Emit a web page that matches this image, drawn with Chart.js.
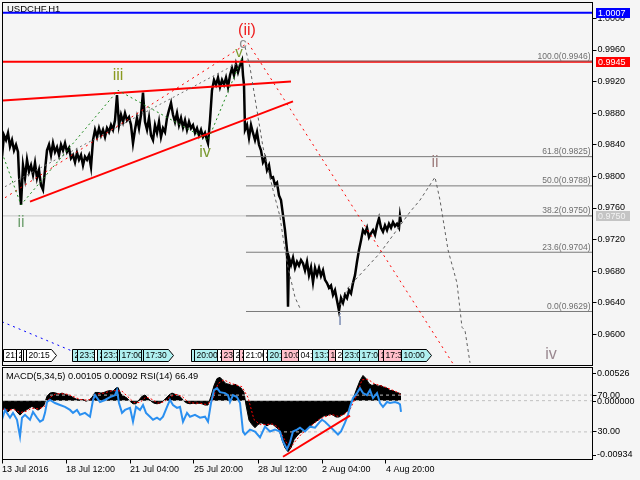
<!DOCTYPE html>
<html><head><meta charset="utf-8">
<script src="https://cdn.jsdelivr.net/npm/chart.js@4.4.0/dist/chart.umd.min.js"></script>
<style>
html,body{margin:0;padding:0;background:#f5f5f5;width:640px;height:480px;overflow:hidden}
#main{position:absolute;left:0;top:0}
#sub{position:absolute;left:0;top:366px}
</style></head><body>
<canvas id="main" width="640" height="367"></canvas>
<canvas id="sub" width="640" height="114"></canvas>
<script>
// ---------------- DATA ----------------
const chartTitle = 'USDCHF,H1';
const priceTicks = [0.9600,0.9640,0.9680,0.9720,0.9760,0.9800,0.9840,0.9880,0.9920,0.9960,1.0000];
const xTickHours = [0,64,128,192,256,320,384];
const xTickLabels = ['13 Jul 2016','18 Jul 12:00','21 Jul 04:00','25 Jul 20:00','28 Jul 12:00','2 Aug 04:00','4 Aug 20:00'];

const priceHours = [0,2,4,6,8,10,12,14,16,17,18,19,20,21,
23,25,27,29,31,33,35,37,39,41,43,45,47,49,51,53,55,57,59,61,63,65,67,69,71,73,75,77,79,81,83,85,87,89,91,93,
95,97,99,101,103,105,107,109,111,113,115,117,119,121,123,125,127,129,131,133,135,137,139,141,143,145,147,149,151,153,155,157,159,161,163,165,167,169,171,173,175,177,179,181,183,185,187,189,191,193,195,197,199,201,203,205,
206,208,210,212,214,216,218,220,222,224,226,228,230,232,234,236,238,240,241,242,243,
245,247,249,251,253,255,257,259,261,263,265,267,269,271,273,275,277,279,281,283,285,286,287,
289,291,293,295,297,299,301,303,305,307,309,311,313,315,317,319,321,323,325,327,329,331,333,335,337,339,341,343,345,347,349,351,353,355,357,359,361,363,365,367,369,371,373,375,377,379,381,383,385,387,389,391,393,395,397,398,399];
const priceValues = [0.9825,0.9852,0.9846,0.9855,0.9838,0.9846,0.9833,0.9840,0.9831,0.9802,0.9783,0.9764,0.9789,0.9814,
0.9798,0.9821,0.9806,0.9814,0.9802,0.9817,0.9798,0.9808,0.9789,0.9783,0.9808,0.9833,0.9840,0.9827,0.9842,0.9831,0.9837,0.9827,0.9840,0.9833,0.9842,0.9831,0.9836,0.9823,0.9827,0.9818,0.9830,0.9821,0.9827,0.9814,0.9825,0.9821,0.9827,0.9812,0.9846,0.9859,
0.9850,0.9861,0.9852,0.9859,0.9850,0.9861,0.9856,0.9865,0.9859,0.9871,0.9903,0.9865,0.9878,0.9869,0.9880,0.9871,0.9875,0.9865,0.9842,0.9859,0.9874,0.9861,0.9878,0.9906,0.9869,0.9859,0.9874,0.9852,0.9846,0.9865,0.9855,0.9869,0.9850,0.9861,0.9856,0.9874,0.9884,0.9893,0.9878,0.9869,0.9880,0.9865,0.9874,0.9862,0.9871,0.9859,0.9869,0.9861,0.9865,0.9855,0.9861,0.9852,0.9859,0.9850,0.9855,0.9846,
0.9842,0.9871,0.9909,0.9922,0.9916,0.9925,0.9913,0.9922,0.9916,0.9925,0.9913,0.9928,0.9937,0.9928,0.9942,0.9932,0.9941,0.9947,0.9928,0.9916,0.9859,
0.9865,0.9849,0.9865,0.9855,0.9846,0.9856,0.9840,0.9833,0.9818,0.9823,0.9808,0.9814,0.9798,0.9799,0.9789,0.9792,0.9776,0.9770,0.9751,0.9732,0.9707,0.9635,0.9697,
0.9688,0.9697,0.9684,0.9692,0.9687,0.9694,0.9690,0.9681,0.9692,0.9675,0.9685,0.9666,0.9684,0.9675,0.9684,0.9674,0.9681,0.9669,0.9665,0.9659,0.9662,0.9650,0.9656,0.9643,0.9630,0.9646,0.9640,0.9650,0.9646,0.9656,0.9652,0.9665,0.9675,0.9692,0.9707,0.9719,0.9732,0.9728,0.9735,0.9723,0.9728,0.9732,0.9726,0.9738,0.9747,0.9735,0.9730,0.9738,0.9732,0.9740,0.9735,0.9742,0.9737,0.9740,0.9735,0.9750,0.9742];

const rsiHours = [0,3,8,11,15,18,20,23,28,31,35,38,41,43,45,48,53,58,63,68,71,75,78,83,88,91,93,98,103,108,113,115,117,120,123,128,131,134,138,141,144,148,151,155,158,161,165,168,171,175,178,181,185,188,193,198,203,206,209,212,215,218,223,226,228,231,235,238,241,243,248,253,258,263,268,273,278,281,285,288,291,295,298,303,308,313,318,320,323,328,333,336,339,343,346,348,351,355,358,361,365,368,371,375,378,381,385,388,393,396,398,399];
const rsiValues = [43.2,53.9,45.4,50.7,43.2,25.0,45.4,48.6,43.2,51.8,45.4,41.1,43.2,50.7,62.5,64.7,61.4,59.3,57.2,53.9,50.7,53.9,48.6,50.7,46.5,64.7,70.0,62.5,64.7,67.9,70.0,75.4,61.4,50.7,53.9,56.1,41.1,57.2,53.9,59.3,50.7,46.5,43.2,45.4,43.2,46.5,57.2,64.7,59.3,56.1,57.2,41.1,50.7,46.5,48.6,45.4,46.5,41.1,61.4,75.4,77.5,73.2,72.2,70.0,62.5,70.0,67.9,61.4,30.4,27.2,32.5,30.4,24.0,35.7,30.4,32.5,30.4,19.6,11.1,18.5,30.4,32.5,34.6,30.4,35.7,34.6,41.1,43.2,41.1,35.7,30.4,27.2,30.4,40.0,48.6,57.2,66.8,72.2,77.5,72.2,70.0,75.4,66.8,72.2,61.4,57.2,62.5,61.4,62.5,61.4,60.0,51.8];

const macdHours = [0,3,6,9,12,15,18,21,24,27,30,33,36,39,42,45,48,51,54,57,60,63,66,69,72,75,78,81,84,87,90,93,96,99,102,105,108,111,114,116,
119,122,125,128,131,134,137,140,143,146,149,152,155,158,161,164,167,170,173,176,179,182,185,188,191,194,197,200,203,206,209,212,215,218,221,224,227,230,233,236,239,242,244,
247,250,253,256,259,262,265,268,271,274,277,280,283,286,289,292,295,298,301,304,307,310,313,316,319,322,325,328,331,334,337,340,343,346,349,352,355,358,361,364,367,370,373,376,379,382,385,388,391,394,397,399];
const macdValues = [-0.0012,-0.0015,-0.0018,-0.0013,-0.0012,-0.0018,-0.0023,-0.0018,-0.0015,-0.0012,-0.0009,-0.0012,-0.0015,-0.0012,-0.0007,
0.0007,0.0012,0.0013,0.0012,0.0010,0.0012,0.0010,0.0009,0.0007,0.0004,0.0002,0.0001,0.0002,-0.0001,0.0001,0.0005,
0.0013,0.0013,0.0012,0.0013,0.0015,0.0016,0.0015,0.0020,0.0021,
0.0010,0.0007,0.0004,-0.0001,-0.0005,-0.0005,0.0001,0.0007,0.0009,0.0004,
-0.0001,-0.0004,-0.0005,-0.0004,-0.0001,0.0004,0.0009,0.0012,0.0010,0.0009,
0.0005,-0.0001,-0.0004,-0.0005,-0.0004,-0.0005,-0.0004,-0.0005,-0.0007,-0.0007,
0.0007,0.0024,0.0035,0.0037,0.0032,0.0027,0.0026,0.0024,0.0026,0.0023,0.0020,0.0013,-0.0007,
-0.0031,-0.0038,-0.0043,-0.0038,-0.0035,-0.0037,-0.0040,-0.0037,-0.0038,-0.0042,
-0.0046,-0.0062,-0.0075,-0.0081,-0.0075,-0.0062,-0.0056,-0.0051,-0.0049,-0.0046,
-0.0043,-0.0038,-0.0034,-0.0031,-0.0027,-0.0024,-0.0024,-0.0021,-0.0023,-0.0026,
-0.0026,-0.0023,-0.0020,-0.0015,-0.0005,0.0007,0.0020,0.0032,0.0040,0.0035,
0.0027,0.0024,0.0026,0.0023,0.0024,0.0021,0.0020,0.0016,0.0016,0.0013,0.0012,0.00105];

const signalHours = [0,6,12,18,24,30,36,42,48,54,60,66,72,78,84,90,96,102,108,114,120,126,132,138,144,150,156,162,168,174,180,186,192,198,204,210,216,222,228,234,240,246,252,258,264,270,276,282,288,294,300,306,312,318,324,330,336,342,348,354,360,366,372,378,384,390,396,399];
const signalValues = [-0.0013,-0.0015,-0.0014,-0.0019,-0.0017,-0.0012,-0.0013,-0.0010,0.0005,0.0011,0.0011,0.0010,0.0006,0.0002,0.0001,0.0002,0.0011,0.0012,0.0015,0.0016,0.0015,0.0006,-0.0003,-0.0003,0.0006,0.0002,-0.0004,-0.0002,0.0006,0.0010,0.0007,-0.0002,-0.0004,-0.0004,-0.0006,-0.0001,0.0027,0.0033,0.0028,0.0025,0.0022,0.0005,-0.0030,-0.0038,-0.0038,-0.0037,-0.0042,-0.0060,-0.0076,-0.0063,-0.0052,-0.0045,-0.0036,-0.0029,-0.0025,-0.0022,-0.0025,-0.0022,-0.0014,0.0006,0.0033,0.0034,0.0027,0.0024,0.0021,0.0017,0.0013,0.00092];

const macdMax = 0.00526;
const macdMin = -0.00934;
const rsiLevels = [70, 30];
const indicatorHeader = 'MACD(5,34,5) 0.00105 0.00092 RSI(14) 66.49';

// horizontal price levels
const blueLevel = 1.0007;
const redLevel = 0.9945;
const bidLevel = 0.9750;
const fibStartHour = 244;
const fibLevels = [100.0, 61.8, 50.0, 38.2, 23.6, 0.0];
const fibPrices = [0.9946, 0.9825, 0.9788, 0.9750, 0.9704, 0.9629];

// drawn objects: [hour, price]
const upperTrendLine = [[1,0.9896],[289,0.9920]];
const lowerTrendLine = [[28,0.9768],[291,0.9895]];
const waveZigzag = [[0,0.9830],[19,0.9764],[116,0.9909],[206,0.9846],[240,0.9950]];
const redDottedUp = [[3,0.9773],[246,0.9969]];
const greyDottedUp = [[3,0.9787],[238,0.9945]];
const redDottedDown = [[246,0.9969],[456,0.9553]];
const blueDotted = [[0,0.9616],[70,0.9579]];
const greyDashedA = [[243,0.9964],[248,0.9938],[253,0.9899],[261,0.9837],[271,0.9783],[278,0.9749],[281,0.9723],[286,0.9685],[293,0.9647],[298,0.9633]];
const greyDashedB = [[338,0.9637],[346,0.9659],[378,0.9703],[408,0.9755],[418,0.9770],[433,0.9799],[438,0.9770],[446,0.9707],[455,0.9665],[460,0.9609],[463,0.9605],[468,0.9564]];
const rsiTrendLine = [[281,3.0],[348,47.6]];

// wave labels
const waveTexts = ['(ii)','c','v','iii','iv','ii','i','ii','iv'];
const waveHours = [245,241,237,116,203,19,338,433,549];
const wavePrices = [0.9985,0.9968,0.9956,0.9928,0.9830,0.9742,0.9617,0.9817,0.9574];

// news events
const eventHours = [1,14,19,21,24,70,75,92,95,99,115,117,139,141,189,192,215,219,231,237,241,261,265,279,296,310,326,333,340,357,376,381,399];
const eventTexts = ['21:00','21:30','20:00','20:10','20:15','23:00','23:30','23:00','23:10','23:30','17:00','17:00','17:30','17:30','20:00','20:00','23:30','23:00','20:00','23:00','21:00','20:00','20:00','10:00','04:00','13:30','14:00','20:00','23:00','17:00','17:00','17:30','10:00'];
const eventImportance = ['low','low','low','low','low','med','med','low','med','med','med','med','med','med','med','med','low','high','low','high','low','low','med','high','low','med','high','low','med','med','high','high','med'];

// ---------------- STYLE ----------------
const NUM_FONT = '"Liberation Sans", Arial, sans-serif';
const TXT_FONT = '"Liberation Sans", Arial, sans-serif';
const waveColors = ['#ee2020','#8c8c8c','#7a9a30','#8a9a20','#7a9a30','#70a070','#7888b0','#a08080','#9a8890'];
const waveSizes = [16,15,15,16,16,16,16,16,16];
const importanceColors = {low:'#ffffff', med:'#b0f0f0', high:'#ffc0cb'};
const X_MAX = 590.5;
const Y_MAX = 1.002076, Y_MIN = 0.956127;

function pts(arr){ return arr.map(p => ({x:p[0], y:p[1]})); }
function zipPts(hs, vs){ return hs.map((h,i) => ({x:h, y:vs[i]})); }
function ln(data, color, width, dash, order, axis){
  const d = {type:'line', data, borderColor:color, borderWidth:width, pointRadius:0, tension:0, fill:false, order:order||0};
  if (dash) d.borderDash = dash;
  if (axis) d.yAxisID = axis;
  return d;
}
function hLine(p, h0){ return [[h0===undefined?0:h0, p],[X_MAX, p]]; }

// ---------------- MAIN CHART ----------------
const mainDatasets = [
  ln(zipPts(priceHours, priceValues), '#000000', 2.5, null, 100),
  ln(pts(hLine(bidLevel)), '#c4c4c4', 1, null, 50),
  ln(pts(hLine(blueLevel)), '#0000ff', 2, null, 40),
  ln(pts(hLine(redLevel)), '#ff0000', 2, null, 40),
];
fibPrices.forEach(p => mainDatasets.push(ln(pts(hLine(p, fibStartHour)), '#7a7a7a', 1, null, 30)));
mainDatasets.push(
  ln(pts(upperTrendLine), '#ff0000', 2, null, 20),
  ln(pts(lowerTrendLine), '#ff0000', 2, null, 20),
  ln(pts(waveZigzag), '#1e8a1e', 1, [2,3], 10),
  ln(pts(redDottedUp), '#ff0000', 1, [2,4], 10),
  ln(pts(greyDottedUp), '#707070', 1, [2,3], 10),
  ln(pts(redDottedDown), '#ff0000', 1, [2,4], 10),
  ln(pts(blueDotted), '#0000ff', 1, [2,4], 10),
  ln(pts(greyDashedA), '#606060', 1, [3,3], 10),
  ln(pts(greyDashedB), '#606060', 1, [3,3], 10)
);

function frame(ctx, a){
  ctx.save();
  ctx.strokeStyle = '#000'; ctx.lineWidth = 1;
  const l = Math.floor(a.left)+0.5, t = Math.floor(a.top)+0.5;
  ctx.strokeRect(l, t, Math.floor(a.right)+0.5-l, Math.floor(a.bottom)+0.5-t);
  ctx.restore();
}
function tag(ctx, yPix, text, bg, fg, left){
  ctx.fillStyle = bg;
  ctx.fillRect(left, Math.round(yPix)-5, 34, 10);
  ctx.fillStyle = fg;
  ctx.font = '9px ' + NUM_FONT;
  ctx.textAlign = 'left'; ctx.textBaseline = 'middle';
  ctx.fillText(text, left + 2, Math.round(yPix) + 0.5);
}

const mainPlugin = {
  id: 'mainDecor',
  beforeDatasetsDraw(chart){
    const {ctx, chartArea:a} = chart;
    ctx.save();
    ctx.font = '9.5px ' + TXT_FONT; ctx.fillStyle = '#000';
    ctx.textAlign = 'left'; ctx.textBaseline = 'middle';
    ctx.fillText(chartTitle, a.left + 5, a.top + 7);
    ctx.restore();
  },
  afterDatasetsDraw(chart){
    const {ctx, chartArea:a, scales:{x, y}} = chart;
    ctx.save();
    // fib labels
    ctx.font = '8.5px ' + NUM_FONT; ctx.fillStyle = '#6e6e6e';
    ctx.textAlign = 'right'; ctx.textBaseline = 'alphabetic';
    fibLevels.forEach((lv, i) => {
      const py = y.getPixelForValue(fibPrices[i]);
      ctx.fillText(lv.toFixed(1) + '(' + fibPrices[i].toFixed(4) + ')', a.right - 2, py - 2.5);
    });
    // wave labels
    ctx.textAlign = 'center'; ctx.textBaseline = 'middle';
    waveTexts.forEach((t, i) => {
      ctx.font = waveSizes[i] + 'px ' + TXT_FONT;
      ctx.fillStyle = waveColors[i];
      ctx.fillText(t, x.getPixelForValue(waveHours[i]), y.getPixelForValue(wavePrices[i]));
    });
    // news event markers
    ctx.font = '8.5px ' + NUM_FONT;
    ctx.textAlign = 'left'; ctx.textBaseline = 'middle';
    const top = Math.floor(a.bottom) - 16 + 0.5, h = 12;
    eventHours.forEach((hr, i) => {
      const x0 = Math.round(x.getPixelForValue(hr)) + 0.5;
      const w = Math.round(ctx.measureText(eventTexts[i]).width) + 4;
      ctx.beginPath();
      ctx.moveTo(x0, top); ctx.lineTo(x0 + w, top); ctx.lineTo(x0 + w + 5, top + h/2);
      ctx.lineTo(x0 + w, top + h); ctx.lineTo(x0, top + h); ctx.closePath();
      ctx.fillStyle = importanceColors[eventImportance[i]]; ctx.fill();
      ctx.strokeStyle = '#000'; ctx.lineWidth = 1; ctx.stroke();
      ctx.fillStyle = '#000';
      ctx.fillText(eventTexts[i], x0 + 2, top + h/2 + 0.5);
    });
    ctx.restore();
    frame(ctx, a);
  },
  afterDraw(chart){
    const {ctx, chartArea:a, scales:{y}} = chart;
    ctx.save();
    const left = Math.round(a.right) + 3;
    tag(ctx, y.getPixelForValue(bidLevel), bidLevel.toFixed(4), '#c4c4c4', '#f2f2f2', left);
    tag(ctx, y.getPixelForValue(redLevel), redLevel.toFixed(4), '#ff0000', '#ffffff', left);
    tag(ctx, y.getPixelForValue(blueLevel), blueLevel.toFixed(4), '#0000ff', '#ffffff', left);
    ctx.restore();
  }
};

new Chart(document.getElementById('main'), {
  type: 'line',
  data: { datasets: mainDatasets },
  options: {
    responsive: false, animation: false, devicePixelRatio: 1, events: [],
    layout: { padding: { left: 2, top: 2, right: 0, bottom: 2 } },
    plugins: { legend: { display: false }, tooltip: { enabled: false } },
    scales: {
      x: { type: 'linear', min: 0, max: X_MAX, display: false },
      y: {
        type: 'linear', position: 'right', min: Y_MIN, max: Y_MAX,
        afterBuildTicks: s => { s.ticks = priceTicks.map(v => ({value: v})); },
        afterFit: s => { s.width = 47.5; s.paddingTop = 0; s.paddingBottom = 0; },
        ticks: { callback: v => v.toFixed(4), font: { family: NUM_FONT, size: 9 }, color: '#000', padding: 1, autoSkip: false },
        grid: { drawOnChartArea: false, drawTicks: true, tickLength: 4, color: '#000' },
        border: { display: true, color: '#000' }
      }
    }
  },
  plugins: [mainPlugin]
});

// ---------------- SUB CHART ----------------
const subDatasets = [
  Object.assign(ln(zipPts(macdHours, macdValues), '#000000', 1, null, 100, 'macd'), { fill: 'origin', backgroundColor: '#000000' }),
  ln(pts(hLine(rsiLevels[0])), '#c0c0c0', 1, [3,3], 80, 'rsi'),
  ln(pts(hLine(rsiLevels[1])), '#c0c0c0', 1, [3,3], 80, 'rsi'),
  ln(pts(hLine(0)), '#c0c0c0', 1, [3,3], 80, 'macd'),
  ln(zipPts(signalHours, signalValues), '#ff0000', 1, [2,2], 60, 'macd'),
  ln(zipPts(rsiHours, rsiValues), '#2a8ff0', 2, null, 40, 'rsi'),
  ln(pts(rsiTrendLine), '#ff0000', 2, null, 20, 'rsi')
];

const subPlugin = {
  id: 'subDecor',
  afterDatasetsDraw(chart){
    const {ctx, chartArea:a} = chart;
    ctx.save();
    ctx.font = '9.3px ' + NUM_FONT; ctx.fillStyle = '#000';
    ctx.textAlign = 'left'; ctx.textBaseline = 'middle';
    ctx.fillText(indicatorHeader, a.left + 4, a.top + 8.5);
    ctx.restore();
    frame(ctx, a);
  },
  afterDraw(chart){
    const {ctx, chartArea:a, scales:{macd}} = chart;
    ctx.save();
    ctx.font = '9px ' + NUM_FONT; ctx.fillStyle = '#000';
    ctx.textAlign = 'left'; ctx.textBaseline = 'middle';
    ctx.strokeStyle = '#000'; ctx.lineWidth = 1;
    const items = [
      [a.top + 5.5, macdMax.toFixed(5)],
      [macd.getPixelForValue(0), (0).toFixed(6)],
      [a.bottom - 5, macdMin.toFixed(5)]
    ];
    items.forEach(([py, txt]) => {
      const yy = Math.round(py) + 0.5;
      ctx.beginPath(); ctx.moveTo(Math.floor(a.right), yy); ctx.lineTo(Math.floor(a.right) + 4, yy); ctx.stroke();
      ctx.fillText(txt, Math.floor(a.right) + 5, py + 0.5);
    });
    ctx.restore();
  }
};

new Chart(document.getElementById('sub'), {
  type: 'line',
  data: { datasets: subDatasets },
  options: {
    responsive: false, animation: false, devicePixelRatio: 1, events: [],
    layout: { padding: { left: 2, top: 1.5, right: 0, bottom: 0 } },
    plugins: { legend: { display: false }, tooltip: { enabled: false } },
    scales: {
      x: {
        type: 'linear', position: 'bottom', min: 0, max: X_MAX,
        afterBuildTicks: s => { s.ticks = xTickHours.map(v => ({value: v})); },
        afterFit: s => { s.height = 20.5; s.paddingLeft = 0; s.paddingRight = 0; },
        ticks: { callback: (v, i) => xTickLabels[i], align: 'start', maxRotation: 0, minRotation: 0, autoSkip: false,
                 font: { family: NUM_FONT, size: 9 }, color: '#000', padding: 1 },
        grid: { drawOnChartArea: false, drawTicks: true, tickLength: 4, color: '#000' },
        border: { display: true, color: '#000' }
      },
      rsi: {
        type: 'linear', position: 'right', min: 0, max: 100,
        afterBuildTicks: s => { s.ticks = rsiLevels.map(v => ({value: v})); },
        afterFit: s => { s.width = 47.5; s.paddingTop = 0; s.paddingBottom = 0; },
        ticks: { callback: v => v.toFixed(2), font: { family: NUM_FONT, size: 9 }, color: '#000', padding: 1, autoSkip: false },
        grid: { drawOnChartArea: false, drawTicks: true, tickLength: 4, color: '#000' },
        border: { display: true, color: '#000' }
      },
      macd: { type: 'linear', display: false, min: macdMin, max: macdMax }
    }
  },
  plugins: [subPlugin]
});
</script></body></html>
